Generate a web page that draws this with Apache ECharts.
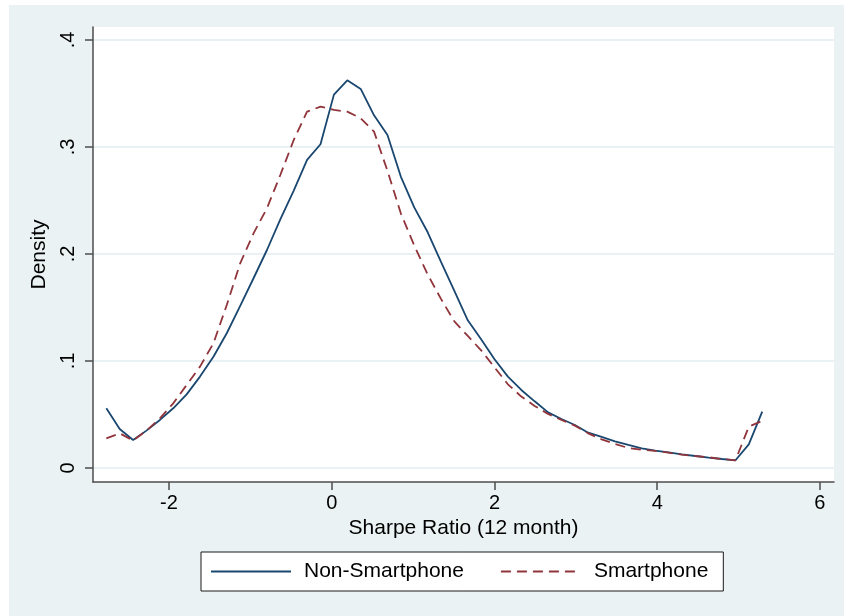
<!DOCTYPE html>
<html>
<head>
<meta charset="utf-8">
<script src="https://cdn.jsdelivr.net/npm/echarts@6/dist/echarts.min.js"></script>
<style>
  html, body { margin: 0; padding: 0; background: #ffffff; }
  #chart { width: 844px; height: 616px; }
</style>
</head>
<body>
<div id="chart"></div>
<script>
// Kernel density evaluation points (Sharpe Ratio, 12 month)
var sharpeX = [-2.770, -2.606, -2.441, -2.277, -2.112, -1.948, -1.783, -1.619, -1.454, -1.290,
               -1.125, -0.961, -0.796, -0.632, -0.467, -0.303, -0.138, 0.027, 0.191, 0.356,
               0.520, 0.685, 0.849, 1.014, 1.178, 1.343, 1.507, 1.672, 1.836, 2.001,
               2.165, 2.330, 2.494, 2.659, 2.823, 2.988, 3.152, 3.317, 3.481, 3.646,
               3.810, 3.975, 4.139, 4.304, 4.468, 4.633, 4.797, 4.962, 5.126, 5.291];

var nonSmartphone = [0.0558, 0.0364, 0.0262, 0.0349, 0.0449, 0.0558, 0.0688, 0.0854, 0.1040, 0.1259,
                     0.1514, 0.1773, 0.2037, 0.2324, 0.2592, 0.2879, 0.3025, 0.3489, 0.3623, 0.3542,
                     0.3296, 0.3112, 0.2723, 0.2435, 0.2205, 0.1925, 0.1655, 0.1380, 0.1202, 0.1016,
                     0.0854, 0.0729, 0.0623, 0.0520, 0.0458, 0.0402, 0.0330, 0.0290, 0.0249, 0.0215,
                     0.0184, 0.0162, 0.0146, 0.0128, 0.0112, 0.0097, 0.0084, 0.0072, 0.0221, 0.0526];

var smartphone = [0.0277, 0.0324, 0.0257, 0.0349, 0.0464, 0.0604, 0.0776, 0.0947, 0.1165, 0.1523,
                  0.1913, 0.2193, 0.2427, 0.2738, 0.3065, 0.3330, 0.3377, 0.3346, 0.3330, 0.3268,
                  0.3143, 0.2777, 0.2380, 0.2080, 0.1810, 0.1580, 0.1370, 0.1234, 0.1100, 0.0940,
                  0.0782, 0.0667, 0.0580, 0.0505, 0.0449, 0.0396, 0.0324, 0.0268, 0.0224, 0.0187,
                  0.0171, 0.0159, 0.0143, 0.0125, 0.0112, 0.0100, 0.0084, 0.0072, 0.0386, 0.0440];

var xTicks = [-2, 0, 2, 4, 6];
var yTicks = [0, 0.1, 0.2, 0.3, 0.4];
var seriesNames = ['Non-Smartphone', 'Smartphone'];

function pairs(xs, ys) {
  return xs.map(function (x, i) { return [x, ys[i]]; });
}

var FONT = "'Liberation Sans', Arial, Helvetica, sans-serif";
var chart = echarts.init(document.getElementById('chart'), null, { renderer: 'canvas' });

chart.setOption({
  backgroundColor: '#ffffff',
  animation: false,
  textStyle: { fontFamily: FONT, color: '#000' },
  graphic: [{
    type: 'rect',
    z: -100,
    silent: true,
    shape: { x: 9, y: 5, width: 835, height: 611 },
    style: { fill: '#eaf2f3' }
  }],
  grid: {
    left: 93, right: 10, top: 27, bottom: 134,
    show: true, backgroundColor: '#ffffff', borderWidth: 0,
    containLabel: false
  },
  xAxis: {
    type: 'value',
    min: -2.934, max: 6.173,
    name: 'Sharpe Ratio (12 month)',
    nameLocation: 'middle',
    nameGap: 32,
    nameTextStyle: { fontSize: 21, color: '#000', fontFamily: FONT },
    axisLine: { show: true, onZero: false, lineStyle: { color: '#4d4d4d', width: 1.5 } },
    axisTick: { show: true, length: 8, customValues: xTicks, lineStyle: { color: '#4d4d4d', width: 1.5 } },
    axisLabel: {
      customValues: xTicks, fontSize: 20, color: '#000', margin: 11, fontFamily: FONT,
      formatter: function (v) { return String(v); }
    },
    splitLine: { show: false }
  },
  yAxis: {
    type: 'value',
    min: -0.0131, max: 0.4121,
    name: 'Density',
    nameLocation: 'middle',
    nameGap: 33,
    nameTextStyle: { fontSize: 21, color: '#000', fontFamily: FONT },
    axisLine: { show: true, onZero: false, lineStyle: { color: '#4d4d4d', width: 1.5 } },
    axisTick: { show: true, length: 8, customValues: yTicks, lineStyle: { color: '#4d4d4d', width: 1.5 } },
    axisLabel: {
      customValues: yTicks, fontSize: 20, color: '#000', rotate: 90, margin: 15, fontFamily: FONT,
      formatter: function (v) { return v === 0 ? '0' : String(v).replace(/^0\./, '.'); }
    },
    splitLine: { show: true, lineStyle: { color: '#e3edf0', width: 1.5 } }
  },
  legend: {
    data: seriesNames,
    left: 201, top: 552,
    orient: 'horizontal',
    padding: [8, 15, 8, 9],
    itemWidth: 80, itemHeight: 14, itemGap: 36,
    itemStyle: { opacity: 0 },
    backgroundColor: '#ffffff',
    borderColor: '#1a1a1a', borderWidth: 1, borderRadius: 0,
    textStyle: { fontSize: 21, color: '#000', lineHeight: 23, padding: [0, 0, 0, 8], fontFamily: FONT }
  },
  series: [
    {
      name: seriesNames[0], type: 'line', symbol: 'none', smooth: false,
      data: pairs(sharpeX, nonSmartphone),
      lineStyle: { color: '#1a476f', width: 1.8, type: 'solid' },
      itemStyle: { color: '#1a476f' },
      z: 2
    },
    {
      name: seriesNames[1], type: 'line', symbol: 'none', smooth: false,
      data: pairs(sharpeX, smartphone),
      lineStyle: { color: '#90353b', width: 1.8, type: [10, 6] },
      itemStyle: { color: '#90353b' },
      z: 3
    }
  ]
});
</script>
</body>
</html>
